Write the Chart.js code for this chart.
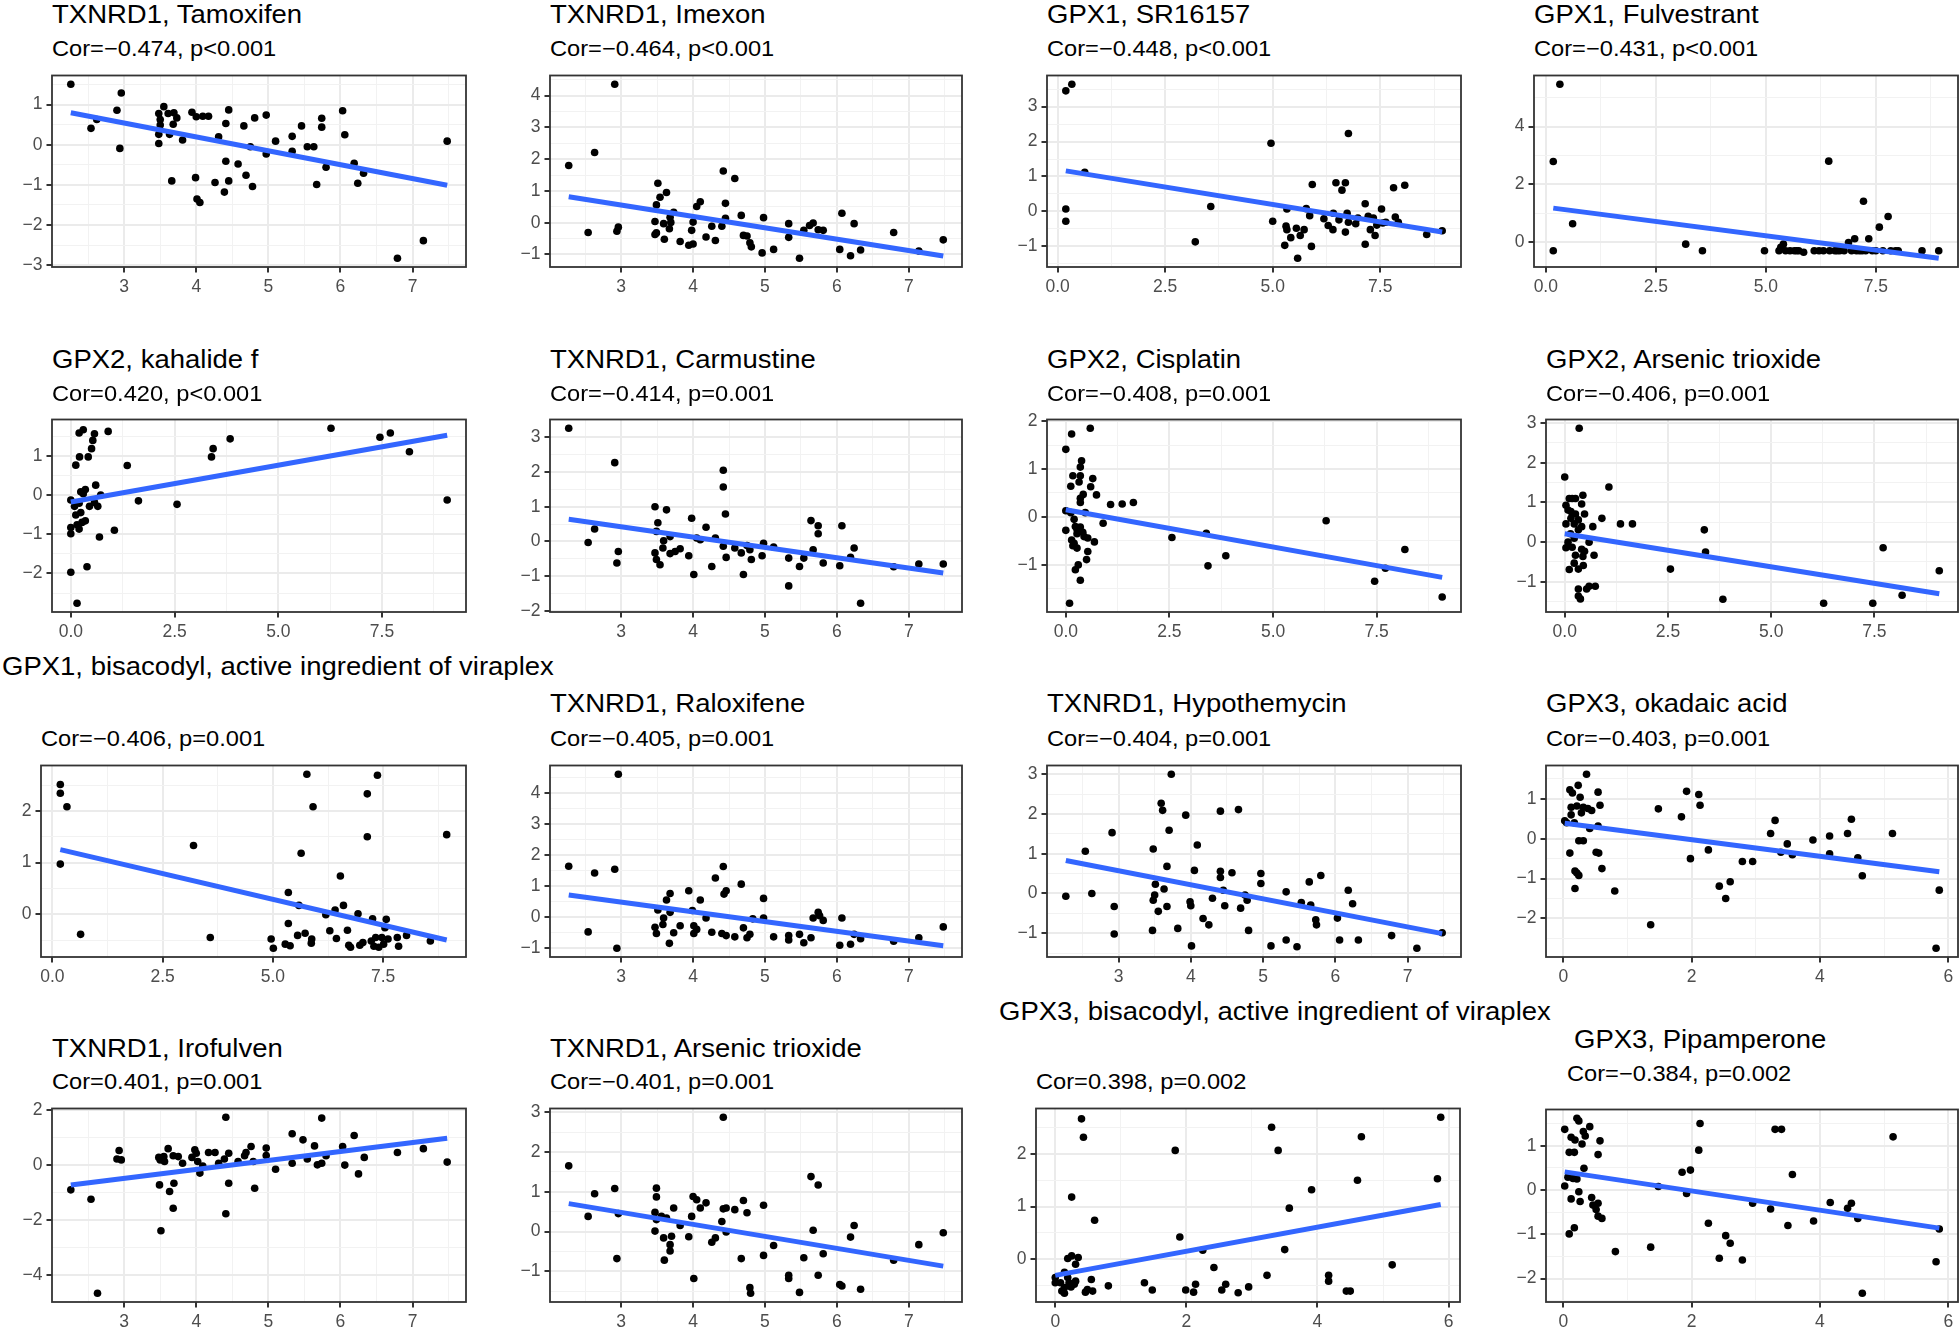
<!DOCTYPE html>
<html>
<head>
<meta charset="utf-8">
<script src="https://cdn.jsdelivr.net/npm/chart.js@4.4.1/dist/chart.umd.min.js"></script>
<style>
  html, body { margin: 0; padding: 0; background: #fff; width: 1960px; height: 1328px; overflow: hidden; position: relative; }
  .t { position: absolute; white-space: nowrap; line-height: 1; color: #000; font-family: "Liberation Sans", Arial, sans-serif; transform: scaleX(1.1); transform-origin: 0 0; }
  .title { font-size: 25px; }
  .sub { font-size: 21.5px; }
  canvas { position: absolute; }
</style>
</head>
<body>
<script>
// [x, y] pairs; *Fit = fitted y at the lowest and highest x
const tamoxifen = [[2.26,1.51],[2.96,1.29],[2.90,0.86],[2.54,0.41],[2.62,0.63],[2.94,-0.09],[3.48,0.78],[3.55,0.95],[3.61,0.78],[3.69,0.80],[3.50,0.63],[3.50,0.49],[3.68,0.51],[3.73,0.67],[3.48,0.26],[3.63,0.26],[3.48,0.03],[3.81,0.12],[3.66,-0.90],[3.94,0.81],[4.00,0.70],[4.09,0.71],[4.17,0.71],[4.31,0.20],[4.45,0.87],[4.41,0.53],[3.99,-0.82],[4.01,-1.35],[4.05,-1.44],[4.26,-0.94],[4.41,-0.41],[4.39,-1.18],[4.45,-0.90],[4.58,-0.48],[4.66,0.47],[4.75,-0.05],[4.81,0.67],[4.69,-0.76],[4.78,-1.04],[4.97,0.74],[4.97,-0.23],[5.10,0.09],[5.33,0.21],[5.33,-0.16],[5.46,0.47],[5.54,-0.05],[5.63,-0.05],[5.74,0.66],[5.74,0.44],[5.80,-0.56],[5.67,-0.99],[6.03,0.85],[6.06,0.25],[6.19,-0.46],[6.24,-0.96],[6.32,-0.71],[6.79,-2.83],[7.15,-2.39],[7.48,0.09]];
const tamoxifenFit = [0.80, -1.01];

const imexon = [[2.27,1.80],[2.63,2.21],[2.91,4.36],[2.54,-0.31],[2.96,-0.14],[2.94,-0.27],[3.51,1.24],[3.63,0.95],[3.54,0.80],[3.49,0.56],[3.73,0.33],[3.47,0.04],[3.49,-0.32],[3.47,-0.37],[3.60,-0.52],[3.59,-0.03],[3.68,0.17],[3.69,0.01],[3.67,-0.19],[3.82,-0.59],[3.94,-0.71],[4.00,-0.67],[3.98,-0.24],[4.00,0.02],[4.05,0.51],[4.10,0.66],[4.18,-0.45],[4.26,-0.11],[4.31,-0.56],[4.40,-0.11],[4.42,1.63],[4.45,0.61],[4.45,0.14],[4.58,1.39],[4.67,0.23],[4.70,-0.40],[4.75,-0.42],[4.79,-0.63],[4.81,-0.76],[4.98,0.16],[4.96,-0.95],[5.12,-0.84],[5.33,-0.03],[5.33,-0.46],[5.48,-1.12],[5.54,-0.24],[5.62,-0.09],[5.67,-0.01],[5.74,-0.22],[5.81,-0.24],[6.07,0.30],[6.04,-0.84],[6.19,-1.04],[6.24,-0.03],[6.33,-0.86],[6.79,-0.31],[7.14,-0.89],[7.48,-0.54]];
const imexonFit = [0.82, -1.05];

const sr16157 = [[0.19,3.45],[0.33,3.64],[0.63,1.12],[0.19,0.07],[0.19,-0.28],[3.20,-0.87],[3.56,0.14],[4.96,1.95],[5.00,-0.28],[5.28,-0.97],[5.31,-0.42],[5.33,0.07],[5.33,-0.52],[5.42,-0.75],[5.55,-0.48],[5.58,-1.34],[5.64,-0.69],[5.73,-0.52],[5.78,0.08],[5.86,-0.12],[5.90,-1.00],[5.92,0.77],[6.19,-0.21],[6.29,-0.40],[6.40,-0.52],[6.41,-0.05],[6.47,0.82],[6.54,-0.24],[6.61,0.61],[6.69,0.82],[6.69,-0.59],[6.73,-0.05],[6.76,2.23],[6.76,-0.31],[6.93,-0.35],[6.98,-0.19],[7.15,0.22],[7.15,-0.94],[7.22,-0.14],[7.27,-0.52],[7.34,-0.19],[7.38,-0.69],[7.42,-0.39],[7.53,0.07],[7.56,-0.33],[7.63,-0.31],[7.81,0.68],[7.85,-0.16],[7.92,-0.31],[8.07,0.75],[8.58,-0.66],[8.94,-0.55]];
const sr16157Fit = [1.16, -0.59];

const fulvestrant = [[0.32,5.47],[0.17,2.79],[0.61,0.63],[0.17,-0.31],[3.18,-0.08],[3.56,-0.31],[4.97,-0.31],[5.30,-0.31],[5.34,-0.19],[5.40,-0.08],[5.45,-0.31],[5.55,-0.31],[5.65,-0.31],[5.70,-0.31],[5.75,-0.31],[5.86,-0.36],[6.10,-0.31],[6.21,-0.31],[6.31,-0.31],[6.43,2.80],[6.45,-0.31],[6.57,-0.31],[6.62,-0.31],[6.68,-0.31],[6.78,-0.31],[6.88,-0.02],[6.95,-0.31],[7.02,0.11],[7.06,-0.31],[7.13,-0.31],[7.19,-0.31],[7.22,1.41],[7.27,-0.31],[7.34,0.11],[7.42,-0.31],[7.50,-0.31],[7.58,0.51],[7.66,-0.31],[7.78,0.88],[7.84,-0.31],[7.95,-0.31],[8.01,-0.31],[8.55,-0.31],[8.93,-0.31]];
const fulvestrantFit = [1.17, -0.57];

const kahalideF = [[0.15,-2.76],[0.00,-1.97],[0.39,-1.83],[0.00,-0.99],[0.00,-0.83],[0.20,-0.87],[0.15,-0.76],[0.27,-0.70],[0.35,-0.66],[0.12,-0.51],[0.24,-0.45],[0.09,-0.29],[0.20,-0.21],[0.00,-0.13],[0.30,0.03],[0.24,0.08],[0.35,0.14],[0.45,-0.29],[0.57,-0.19],[0.65,-0.29],[0.60,0.25],[0.72,0.00],[1.05,-0.90],[0.69,-1.07],[0.12,0.76],[0.21,0.97],[0.42,0.97],[0.50,1.18],[0.53,1.39],[0.57,1.56],[0.20,1.58],[0.30,1.66],[0.90,1.62],[1.36,0.75],[1.63,-0.15],[2.56,-0.24],[3.39,0.97],[3.43,1.18],[3.84,1.43],[6.27,1.70],[7.45,1.47],[7.70,1.58],[8.16,1.10],[9.07,-0.13]];
const kahalideFFit = [-0.18, 1.52];

const carmustine = [[2.27,3.26],[2.54,-0.03],[2.63,0.36],[2.91,2.27],[2.96,-0.29],[2.94,-0.62],[3.47,1.00],[3.51,0.54],[3.49,0.29],[3.63,0.91],[3.59,0.02],[3.58,-0.19],[3.68,0.14],[3.47,-0.33],[3.49,-0.52],[3.54,-0.67],[3.68,-0.35],[3.75,-0.29],[3.82,-0.21],[3.94,-0.41],[3.98,0.67],[4.01,-0.95],[4.05,0.10],[4.10,0.05],[4.18,0.41],[4.26,-0.72],[4.31,0.10],[4.42,1.57],[4.42,2.05],[4.42,-0.14],[4.45,0.79],[4.46,-0.46],[4.58,-0.19],[4.67,-0.33],[4.70,-0.95],[4.75,-0.12],[4.79,-0.24],[4.81,-0.52],[4.98,-0.05],[4.96,-0.41],[5.12,-0.16],[5.33,-0.48],[5.33,-1.28],[5.48,-0.72],[5.54,-0.48],[5.64,0.60],[5.67,-0.24],[5.74,0.45],[5.74,0.22],[5.81,-0.62],[6.04,-0.70],[6.07,0.45],[6.19,-0.46],[6.24,-0.19],[6.33,-1.78],[6.79,-0.73],[7.14,-0.65],[7.48,-0.65]];
const carmustineFit = [0.64, -0.91];

const cisplatin = [[0.09,-1.80],[0.00,1.41],[0.00,0.13],[0.00,-0.28],[0.14,1.73],[0.59,1.85],[0.17,0.86],[0.12,0.64],[0.35,0.86],[0.32,0.73],[0.38,1.17],[0.35,1.04],[0.65,0.80],[0.60,0.63],[0.74,0.46],[0.42,0.47],[0.35,0.39],[0.35,0.30],[0.47,0.09],[0.12,0.09],[0.20,-0.05],[0.23,-0.20],[0.27,-0.26],[0.35,-0.21],[0.41,-0.32],[0.27,-0.35],[0.44,-0.41],[0.53,-0.44],[0.14,-0.48],[0.20,-0.55],[0.17,-0.60],[0.27,-0.65],[0.69,-0.52],[0.90,-0.13],[0.53,-0.72],[0.50,-0.89],[0.30,-1.00],[0.23,-1.10],[0.35,-1.32],[1.08,0.26],[1.36,0.27],[1.63,0.30],[2.56,-0.43],[3.39,-0.34],[3.43,-1.02],[3.86,-0.81],[6.28,-0.08],[7.45,-1.34],[7.71,-1.07],[8.18,-0.68],[9.08,-1.67]];
const cisplatinFit = [0.15, -1.26];

const arsenicGpx2 = [[0.35,2.87],[0.00,1.64],[1.07,1.39],[0.11,1.10],[0.18,1.10],[0.26,1.10],[0.44,1.18],[0.03,0.93],[0.41,0.96],[0.08,0.81],[0.15,0.77],[0.26,0.71],[0.48,0.71],[0.90,0.60],[0.15,0.60],[0.33,0.56],[0.03,0.46],[1.35,0.46],[1.64,0.46],[0.23,0.46],[0.41,0.39],[0.68,0.39],[0.33,0.31],[3.38,0.31],[0.14,0.21],[0.23,0.10],[0.08,0.00],[0.59,0.00],[0.18,-0.13],[0.03,-0.14],[0.41,-0.18],[0.48,-0.23],[0.26,-0.33],[0.71,-0.33],[0.44,-0.36],[0.23,-0.53],[0.45,-0.59],[0.11,-0.69],[0.33,-0.68],[3.41,-0.25],[2.56,-0.68],[7.71,-0.14],[9.07,-0.72],[0.33,-1.18],[0.53,-1.18],[0.74,-1.11],[0.59,-1.11],[0.33,-1.36],[0.38,-1.43],[3.83,-1.44],[6.27,-1.54],[7.46,-1.54],[8.17,-1.34]];
const arsenicGpx2Fit = [0.21, -1.30];

const bisacodylGpx1 = [[0.18,2.51],[0.18,2.34],[0.33,2.08],[0.18,0.97],[0.64,-0.39],[3.20,1.33],[3.58,-0.45],[4.96,-0.48],[5.01,-0.66],[5.28,-0.58],[5.35,-0.18],[5.35,0.42],[5.39,-0.61],[5.56,-0.41],[5.59,0.17],[5.64,1.18],[5.73,-0.37],[5.77,2.71],[5.87,-0.56],[5.88,-0.48],[5.91,2.08],[6.20,-0.01],[6.29,-0.32],[6.41,0.08],[6.44,-0.47],[6.53,0.74],[6.60,0.17],[6.69,-0.31],[6.72,-0.60],[6.76,-0.64],[6.93,0.01],[6.97,-0.60],[7.04,-0.55],[7.14,1.50],[7.14,2.33],[7.23,-0.52],[7.26,-0.09],[7.29,-0.62],[7.33,-0.45],[7.37,2.69],[7.40,-0.64],[7.47,-0.45],[7.51,-0.58],[7.54,-0.26],[7.57,-0.10],[7.61,-0.48],[7.82,-0.45],[7.85,-0.62],[8.03,-0.41],[8.57,-0.52],[8.94,1.54]];
const bisacodylGpx1Fit = [1.25, -0.50];

const raloxifene = [[2.27,1.63],[2.63,1.41],[2.91,1.53],[2.96,4.60],[2.54,-0.49],[2.94,-1.02],[3.51,0.22],[3.63,0.54],[3.68,0.75],[3.68,0.14],[3.59,-0.04],[3.58,-0.25],[3.47,-0.34],[3.49,-0.54],[3.73,-0.52],[3.82,-0.29],[3.67,-0.86],[3.94,0.84],[3.99,0.20],[4.01,-0.29],[4.01,-0.54],[4.05,-0.41],[4.10,0.54],[4.18,-0.04],[4.26,-0.50],[4.31,1.25],[4.40,-0.54],[4.42,1.62],[4.43,0.73],[4.46,0.84],[4.46,-0.61],[4.58,-0.65],[4.67,1.05],[4.70,-0.36],[4.75,-0.68],[4.79,-0.57],[4.83,-0.07],[4.98,0.59],[4.98,-0.04],[5.12,-0.65],[5.33,-0.61],[5.33,-0.75],[5.48,-0.57],[5.54,-0.84],[5.64,-0.68],[5.67,-0.04],[5.74,0.14],[5.76,0.03],[5.81,-0.12],[6.04,-0.92],[6.07,-0.04],[6.19,-0.89],[6.24,-0.57],[6.33,-0.71],[6.79,-0.79],[7.14,-0.68],[7.48,-0.33]];
const raloxifeneFit = [0.70, -0.94];

const hypothemycin = [[2.27,-0.07],[2.54,1.06],[2.63,0.00],[2.91,1.53],[2.94,-0.33],[2.94,-1.02],[3.48,1.12],[3.50,-0.04],[3.48,-0.17],[3.51,0.23],[3.55,-0.45],[3.59,2.27],[3.61,2.09],[3.63,0.11],[3.67,0.68],[3.67,-0.33],[3.70,1.59],[3.73,3.00],[3.47,-0.93],[3.82,-0.88],[3.93,1.97],[3.99,-0.21],[4.00,-0.31],[4.01,-1.32],[4.05,0.58],[4.09,1.22],[4.17,-0.63],[4.25,-0.79],[4.30,-0.12],[4.41,2.07],[4.41,0.56],[4.41,0.40],[4.45,0.08],[4.47,-0.31],[4.57,0.52],[4.66,2.11],[4.69,-0.37],[4.75,-0.04],[4.78,-0.17],[4.80,-0.93],[4.97,0.50],[4.97,0.25],[5.11,-1.32],[5.32,0.04],[5.32,-1.17],[5.47,-1.34],[5.53,-0.23],[5.66,-0.29],[5.64,0.29],[5.73,-0.66],[5.74,-0.79],[5.80,0.45],[6.03,-0.62],[6.06,-1.17],[6.18,0.08],[6.24,-0.26],[6.32,-1.17],[6.78,-1.06],[7.13,-1.38],[7.48,-0.99]];
const hypothemycinFit = [0.83, -1.01];

const okadaicAcid = [[0.36,1.62],[0.23,1.34],[0.10,1.23],[0.14,1.15],[0.26,1.04],[0.54,1.17],[0.12,0.79],[0.21,0.82],[0.31,0.79],[0.38,0.76],[0.44,0.71],[0.57,0.84],[0.12,0.60],[0.28,0.65],[0.02,0.45],[0.05,0.40],[0.17,0.40],[0.41,0.26],[0.54,0.32],[0.24,-0.05],[0.31,-0.05],[0.10,-0.36],[0.51,-0.34],[0.55,-0.36],[0.60,-0.75],[0.18,-0.81],[0.21,-0.86],[0.24,-0.92],[0.18,-1.25],[0.80,-1.31],[1.36,-2.16],[1.48,0.75],[1.84,0.55],[1.92,1.19],[2.11,1.11],[2.13,0.84],[1.98,-0.50],[2.26,-0.28],[2.43,-1.19],[2.53,-1.50],[2.60,-1.08],[2.79,-0.57],[2.95,-0.57],[3.23,0.13],[3.30,0.46],[3.39,-0.34],[3.49,-0.13],[3.57,-0.40],[3.89,-0.03],[4.15,0.07],[4.15,-0.38],[4.43,0.13],[4.49,0.49],[4.59,-0.48],[4.66,-0.93],[5.13,0.13],[5.86,-1.29],[5.81,-2.75]];
const okadaicAcidFit = [0.39, -0.83];

const irofulven = [[2.26,-0.91],[2.54,-1.25],[2.63,-4.67],[2.93,0.52],[2.90,0.21],[2.96,0.18],[3.48,0.27],[3.50,0.18],[3.55,0.30],[3.56,0.12],[3.61,0.59],[3.68,0.33],[3.75,0.30],[3.49,-0.73],[3.51,-2.40],[3.63,-0.97],[3.69,-0.67],[3.68,-1.58],[3.81,0.06],[3.94,0.27],[3.98,0.55],[4.00,0.42],[4.02,0.12],[4.05,-0.30],[4.09,-0.04],[4.17,0.45],[4.26,0.45],[4.31,0.06],[4.39,0.21],[4.41,1.73],[4.41,-1.78],[4.45,0.42],[4.45,-0.67],[4.58,0.12],[4.67,0.33],[4.69,0.45],[4.76,0.67],[4.79,0.12],[4.81,-0.85],[4.97,0.61],[4.97,0.34],[5.10,-0.16],[5.33,1.13],[5.33,0.06],[5.48,0.91],[5.54,0.21],[5.64,0.69],[5.68,0.00],[5.74,1.70],[5.74,0.06],[5.80,0.33],[6.03,0.67],[6.06,-0.01],[6.19,1.07],[6.25,-0.33],[6.33,0.27],[6.79,0.45],[7.15,0.59],[7.48,0.10]];
const irofulvenFit = [-0.73, 0.97];

const arsenicTxnrd1 = [[2.27,1.65],[2.54,0.38],[2.63,0.95],[2.91,1.08],[2.96,0.45],[2.94,-0.68],[3.49,1.09],[3.49,0.87],[3.47,0.48],[3.49,0.30],[3.56,0.38],[3.63,0.34],[3.47,0.01],[3.59,-0.16],[3.70,-0.12],[3.68,-0.33],[3.68,-0.49],[3.60,-0.72],[3.73,0.59],[3.82,0.15],[3.94,-0.13],[3.98,0.38],[4.00,0.88],[4.05,0.80],[4.10,0.59],[4.18,0.72],[4.26,-0.27],[4.31,-0.16],[4.01,-1.18],[4.40,0.25],[4.42,2.87],[4.42,0.57],[4.46,0.59],[4.46,-0.01],[4.58,0.55],[4.67,-0.68],[4.70,0.78],[4.75,0.47],[4.79,-1.41],[4.80,-1.55],[4.98,0.66],[4.98,-0.60],[5.12,-0.35],[5.33,-1.10],[5.33,-1.18],[5.48,-1.53],[5.54,-0.66],[5.64,1.38],[5.67,0.03],[5.74,1.17],[5.74,-1.10],[5.81,-0.56],[6.04,-1.33],[6.07,-1.37],[6.19,-0.14],[6.24,0.15],[6.33,-1.45],[6.79,-0.72],[7.14,-0.33],[7.48,-0.03]];
const arsenicTxnrd1Fit = [0.70, -0.87];

const bisacodylGpx3 = [[0.40,2.67],[0.43,2.32],[0.25,1.18],[0.60,0.74],[0.19,0.01],[0.25,0.06],[0.35,0.03],[0.31,-0.10],[0.14,-0.25],[0.00,-0.35],[0.00,-0.45],[0.08,-0.45],[0.19,-0.35],[0.21,-0.45],[0.29,-0.48],[0.31,-0.42],[0.14,-0.54],[0.24,-0.53],[0.10,-0.61],[0.14,-0.65],[0.55,-0.39],[0.46,-0.63],[0.49,-0.58],[0.57,-0.61],[0.81,-0.51],[1.36,-0.45],[1.48,-0.59],[1.83,2.07],[1.90,0.42],[1.99,-0.59],[2.11,-0.63],[2.14,-0.48],[2.25,0.17],[2.42,-0.16],[2.54,-0.59],[2.60,-0.48],[2.79,-0.64],[2.95,-0.53],[3.23,-0.31],[3.30,2.51],[3.40,2.07],[3.50,0.18],[3.57,0.97],[3.91,1.32],[4.17,-0.31],[4.17,-0.42],[4.44,-0.61],[4.50,-0.61],[4.61,1.50],[4.67,2.33],[5.14,-0.11],[5.83,1.53],[5.88,2.70]];
const bisacodylGpx3Fit = [-0.31, 1.04];

const pipamperone = [[0.21,1.62],[0.24,1.56],[0.02,1.37],[0.41,1.43],[0.12,1.19],[0.18,1.13],[0.31,1.32],[0.34,1.22],[0.57,1.11],[0.09,0.85],[0.17,0.85],[0.29,1.04],[0.54,0.80],[0.32,0.49],[0.15,0.26],[0.21,0.25],[0.07,0.29],[0.02,0.09],[0.24,-0.04],[0.26,-0.26],[0.12,-0.20],[0.44,-0.17],[0.46,-0.34],[0.54,-0.30],[0.51,-0.44],[0.54,-0.59],[0.60,-0.64],[0.17,-0.85],[0.09,-0.99],[0.81,-1.39],[1.36,-1.29],[1.48,0.08],[1.85,0.40],[1.98,0.45],[1.92,-0.08],[2.11,0.90],[2.13,1.50],[2.26,-0.75],[2.43,-1.54],[2.53,-1.03],[2.60,-1.20],[2.79,-1.58],[2.95,-0.30],[3.23,-0.43],[3.30,1.37],[3.40,1.37],[3.50,-0.80],[3.57,0.35],[3.90,-0.70],[4.16,-0.28],[4.43,-0.41],[4.49,-0.30],[4.59,-0.64],[4.66,-2.33],[5.14,1.20],[5.86,-0.88],[5.81,-1.62]];
const pipamperoneFit = [0.41, -0.86];

// x tick values and labels
const ticksTxnrd1 = [3, 4, 5, 6, 7];
const labelsTxnrd1 = ['3', '4', '5', '6', '7'];
const ticksGpx12 = [0, 2.5, 5, 7.5];
const labelsGpx12 = ['0.0', '2.5', '5.0', '7.5'];
const ticksGpx3 = [0, 2, 4, 6];
const labelsGpx3 = ['0', '2', '4', '6'];

const panels = [
  { title: 'TXNRD1, Tamoxifen', sub: 'Cor=\u22120.474, p<0.001', pts: tamoxifen, fit: tamoxifenFit, xt: ticksTxnrd1, xl: labelsTxnrd1, yt: [-3, -2, -1, 0, 1] },
  { title: 'TXNRD1, Imexon', sub: 'Cor=\u22120.464, p<0.001', pts: imexon, fit: imexonFit, xt: ticksTxnrd1, xl: labelsTxnrd1, yt: [-1, 0, 1, 2, 3, 4] },
  { title: 'GPX1, SR16157', sub: 'Cor=\u22120.448, p<0.001', pts: sr16157, fit: sr16157Fit, xt: ticksGpx12, xl: labelsGpx12, yt: [-1, 0, 1, 2, 3] },
  { title: 'GPX1, Fulvestrant', sub: 'Cor=\u22120.431, p<0.001', pts: fulvestrant, fit: fulvestrantFit, xt: ticksGpx12, xl: labelsGpx12, yt: [0, 2, 4] },
  { title: 'GPX2, kahalide f', sub: 'Cor=0.420, p<0.001', pts: kahalideF, fit: kahalideFFit, xt: ticksGpx12, xl: labelsGpx12, yt: [-2, -1, 0, 1] },
  { title: 'TXNRD1, Carmustine', sub: 'Cor=\u22120.414, p=0.001', pts: carmustine, fit: carmustineFit, xt: ticksTxnrd1, xl: labelsTxnrd1, yt: [-2, -1, 0, 1, 2, 3] },
  { title: 'GPX2, Cisplatin', sub: 'Cor=\u22120.408, p=0.001', pts: cisplatin, fit: cisplatinFit, xt: ticksGpx12, xl: labelsGpx12, yt: [-1, 0, 1, 2] },
  { title: 'GPX2, Arsenic trioxide', sub: 'Cor=\u22120.406, p=0.001', pts: arsenicGpx2, fit: arsenicGpx2Fit, xt: ticksGpx12, xl: labelsGpx12, yt: [-1, 0, 1, 2, 3] },
  { title: 'GPX1, bisacodyl, active ingredient of viraplex', sub: 'Cor=\u22120.406, p=0.001', pts: bisacodylGpx1, fit: bisacodylGpx1Fit, xt: ticksGpx12, xl: labelsGpx12, yt: [0, 1, 2] },
  { title: 'TXNRD1, Raloxifene', sub: 'Cor=\u22120.405, p=0.001', pts: raloxifene, fit: raloxifeneFit, xt: ticksTxnrd1, xl: labelsTxnrd1, yt: [-1, 0, 1, 2, 3, 4] },
  { title: 'TXNRD1, Hypothemycin', sub: 'Cor=\u22120.404, p=0.001', pts: hypothemycin, fit: hypothemycinFit, xt: ticksTxnrd1, xl: labelsTxnrd1, yt: [-1, 0, 1, 2, 3] },
  { title: 'GPX3, okadaic acid', sub: 'Cor=\u22120.403, p=0.001', pts: okadaicAcid, fit: okadaicAcidFit, xt: ticksGpx3, xl: labelsGpx3, yt: [-2, -1, 0, 1] },
  { title: 'TXNRD1, Irofulven', sub: 'Cor=0.401, p=0.001', pts: irofulven, fit: irofulvenFit, xt: ticksTxnrd1, xl: labelsTxnrd1, yt: [-4, -2, 0, 2] },
  { title: 'TXNRD1, Arsenic trioxide', sub: 'Cor=\u22120.401, p=0.001', pts: arsenicTxnrd1, fit: arsenicTxnrd1Fit, xt: ticksTxnrd1, xl: labelsTxnrd1, yt: [-1, 0, 1, 2, 3] },
  { title: 'GPX3, bisacodyl, active ingredient of viraplex', sub: 'Cor=0.398, p=0.002', pts: bisacodylGpx3, fit: bisacodylGpx3Fit, xt: ticksGpx3, xl: labelsGpx3, yt: [0, 1, 2] },
  { title: 'GPX3, Pipamperone', sub: 'Cor=\u22120.384, p=0.002', pts: pipamperone, fit: pipamperoneFit, xt: ticksGpx3, xl: labelsGpx3, yt: [-2, -1, 0, 1] }
];

// plot area (left, top, right, bottom) on the page
const boxes = [
  [52, 75, 466, 267], [550, 75, 962, 267], [1047, 75, 1461, 267], [1534, 75, 1958, 267],
  [52, 419, 466, 612], [550, 419, 962, 612], [1047, 419, 1461, 612], [1546, 419, 1958, 612],
  [41, 765, 466, 957], [550, 765, 962, 957], [1047, 765, 1461, 957], [1546, 765, 1958, 957],
  [52, 1108, 466, 1302], [550, 1108, 962, 1302], [1036, 1108, 1460, 1302], [1546, 1109, 1958, 1302]
];

// title x, title baseline, subtitle x, subtitle baseline
const heads = [
  [52, 23.5, 52, 57.5], [550, 23.5, 550, 57.5], [1047, 23.5, 1047, 57.5], [1534, 23.5, 1534, 57.5],
  [52, 368, 52, 402], [550, 368, 550, 402], [1047, 368, 1047, 402], [1546, 368, 1546, 402],
  [2, 675, 41, 747], [550, 712, 550, 747], [1047, 712, 1047, 747], [1546, 712, 1546, 747],
  [52, 1057, 52, 1090], [550, 1057, 550, 1090], [999, 1020, 1036, 1090], [1574, 1048, 1567, 1082]
];

const FONT = '"Liberation Sans", Arial, sans-serif';
const YW = 44;   // y axis box width
const XH = 36;   // x axis box height
const PT = 14;   // room above the panel
const PR = 18;   // room right of the panel

function expand(vals) {
  const lo = Math.min(...vals);
  const hi = Math.max(...vals);
  const pad = (hi - lo) * 0.05;
  return [lo - pad, hi + pad];
}

function minusSign(v) {
  return String(v).replace('-', '\u2212');
}

function buildTicks(values, labels, lo, hi) {
  const step = values[1] - values[0];
  const ticks = values.map((v, i) => ({ value: v, lab: labels[i] }));
  for (let v = values[0] - step / 2; v <= hi; v += step) {
    if (v >= lo) ticks.push({ value: v, lab: '', minor: true });
  }
  return ticks.sort((a, b) => a.value - b.value);
}

function isMinor(c) {
  return c.tick && c.tick.minor;
}

function axis(lo, hi, values, labels, isX) {
  return {
    type: 'linear',
    min: lo,
    max: hi,
    afterBuildTicks(scale) {
      scale.ticks = buildTicks(values, labels, lo, hi);
    },
    afterFit(scale) {
      if (isX) scale.height = XH;
      else scale.width = YW;
    },
    ticks: {
      autoSkip: false,
      maxRotation: 0,
      minRotation: 0,
      padding: 4,
      color: '#4D4D4D',
      font: { family: FONT, size: 17.5 },
      callback: (v, i, ticks) => ticks[i].lab
    },
    grid: {
      drawTicks: true,
      tickLength: 5.5,
      color: (c) => (isMinor(c) ? '#F2F2F2' : '#EBEBEB'),
      lineWidth: (c) => (isMinor(c) ? 1 : 2),
      tickColor: (c) => (isMinor(c) ? 'rgba(0,0,0,0)' : '#333333'),
      tickWidth: 2
    },
    border: { display: false }
  };
}

const frame = {
  id: 'frame',
  afterDatasetsDraw(chart) {
    const { ctx, chartArea: a } = chart;
    ctx.save();
    ctx.strokeStyle = '#333333';
    ctx.lineWidth = 1.8;
    ctx.strokeRect(a.left, a.top, a.right - a.left, a.bottom - a.top);
    ctx.restore();
  }
};

function addText(cls, text, x, baseline, size) {
  const el = document.createElement('div');
  el.className = 't ' + cls;
  el.textContent = text;
  el.style.left = x + 'px';
  el.style.top = (baseline - 0.8465 * size) + 'px';
  document.body.appendChild(el);
}

function makePanel(p, box, head) {
  const [L, T, R, B] = box;
  const w = YW + (R - L) + PR;
  const h = PT + (B - T) + XH;
  const canvas = document.createElement('canvas');
  canvas.width = w;
  canvas.height = h;
  canvas.style.left = (L - YW) + 'px';
  canvas.style.top = (T - PT) + 'px';
  canvas.style.width = w + 'px';
  canvas.style.height = h + 'px';
  document.body.appendChild(canvas);

  addText('title', p.title, head[0], head[1], 25);
  addText('sub', p.sub, head[2], head[3], 21.5);

  const xs = p.pts.map((d) => d[0]);
  const ys = p.pts.map((d) => d[1]);
  const xMin = Math.min(...xs);
  const xMax = Math.max(...xs);
  const [x0, x1] = expand(xs);
  const [y0, y1] = expand(ys.concat(p.fit));

  new Chart(canvas, {
    type: 'scatter',
    data: {
      datasets: [
        {
          type: 'line',
          data: [{ x: xMin, y: p.fit[0] }, { x: xMax, y: p.fit[1] }],
          borderColor: '#3366FF',
          borderWidth: 5,
          borderCapStyle: 'butt',
          pointRadius: 0,
          fill: false,
          order: 0
        },
        {
          type: 'scatter',
          data: p.pts.map((d) => ({ x: d[0], y: d[1] })),
          backgroundColor: '#000000',
          borderWidth: 0,
          pointRadius: 3.8,
          order: 1
        }
      ]
    },
    options: {
      responsive: false,
      animation: false,
      devicePixelRatio: 1,
      events: [],
      layout: { padding: { top: PT, right: PR, left: 0, bottom: 0 } },
      plugins: {
        legend: { display: false },
        tooltip: { enabled: false }
      },
      scales: {
        x: axis(x0, x1, p.xt, p.xl, true),
        y: axis(y0, y1, p.yt, p.yt.map(minusSign), false)
      }
    },
    plugins: [frame]
  });
}

panels.forEach((p, i) => makePanel(p, boxes[i], heads[i]));
</script>
</body>
</html>
